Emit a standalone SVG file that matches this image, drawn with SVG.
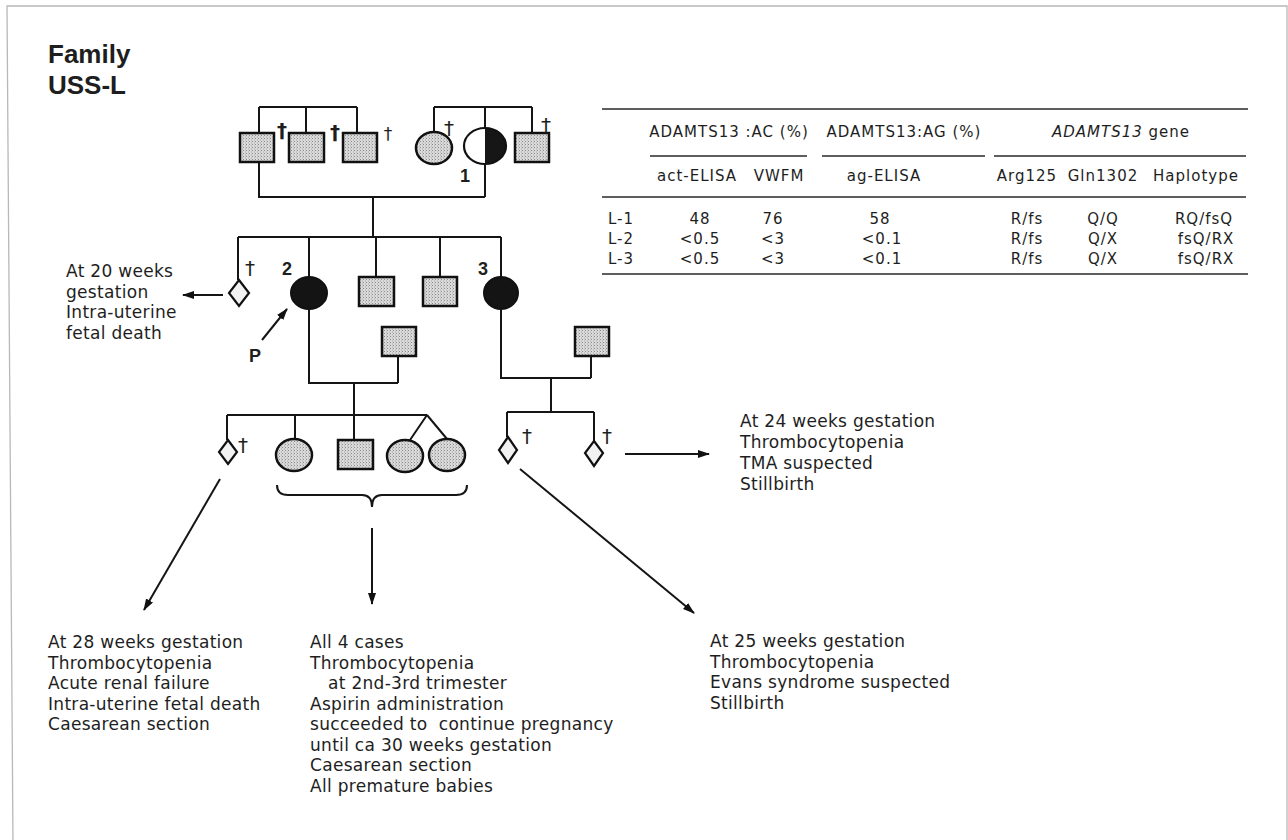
<svg xmlns="http://www.w3.org/2000/svg" width="1288" height="840" viewBox="0 0 1288 840">
<style>
.t{font-family:"DejaVu Sans",sans-serif;font-size:17px;fill:#1e1e1e;letter-spacing:0.3px}
.tb{font-family:"DejaVu Sans",sans-serif;font-size:15px;fill:#1e1e1e;letter-spacing:1px}
.ti{font-family:"Liberation Sans",sans-serif;font-size:26px;font-weight:bold;fill:#1e1e1e}
.lb{font-family:"Liberation Sans",sans-serif;font-size:18px;font-weight:bold;fill:#1e1e1e}
.dg{font-family:"DejaVu Sans",sans-serif;font-size:20px;fill:#1e1e1e;text-anchor:middle}
.ln{fill:none;stroke:#151515;stroke-width:2}
.tl{fill:none;stroke:#2a2a2a;stroke-width:1.6}
.sq{fill:url(#stip);stroke:#111;stroke-width:2.5}
.fc{fill:#141414;stroke:#111;stroke-width:2}
.dm{fill:#f2f2f2;stroke:#111;stroke-width:2.2}
.m{text-anchor:middle}
</style>
<defs>
<pattern id="stip" width="3" height="3" patternUnits="userSpaceOnUse">
<rect width="3" height="3" fill="#dadada"/>
<rect width="1" height="1" fill="#8c8c8c"/>
<rect x="2" y="1.5" width="1" height="1" fill="#a8a8a8"/>
</pattern>
<marker id="ah" viewBox="0 0 12 10" refX="11" refY="5" markerWidth="12" markerHeight="10" markerUnits="userSpaceOnUse" orient="auto">
<path d="M0,1 L12,5 L0,9 Z" fill="#111"/>
</marker>
</defs>
<rect width="1288" height="840" fill="#fff"/>
<path d="M13,845 L7,6 L1287,6 L1287,845" fill="none" stroke="#b8b8b8" stroke-width="1.3"/>

<g id="title">
<text class="ti" x="48" y="63">Family</text>
<text class="ti" x="48" y="94">USS-L</text>
</g>

<g id="connectors">
<path class="ln" d="M259,107 H357 M259,107 V133 M306,107 V133 M357,107 V133"/>
<path class="ln" d="M434,107 H532 M434,107 V132 M485,107 V128 M532,107 V133"/>
<path class="ln" d="M259,162 V197 H485 M485,164 V197 M373,197 V237"/>
<path class="ln" d="M238,237 H501 M238,237 V280 M309,237 V277 M376,237 V277 M440,237 V277 M501,237 V277"/>
<path class="ln" d="M309,309 V383 H398 M398,356 V383 M354,383 V415"/>
<path class="ln" d="M501,309 V378 H591 M591,356 V378 M551,378 V412"/>
<path class="ln" d="M227,415 H427 M227,415 V440 M295,415 V439 M354,415 V440 M427,415 L410,440 M427,415 L447,439"/>
<path class="ln" d="M507,412 H594 M507,412 V437 M594,412 V441"/>
<path class="ln" d="M223,295 H183" marker-end="url(#ah)"/>
<path class="ln" d="M262,340 L287,309" marker-end="url(#ah)"/>
<path class="ln" d="M220,479 L144,610" marker-end="url(#ah)"/>
<path class="ln" d="M372,528 V604" marker-end="url(#ah)"/>
<path class="ln" d="M520,469 L694,613" marker-end="url(#ah)"/>
<path class="ln" d="M625,454 H709" marker-end="url(#ah)"/>
<path class="ln" d="M277,485 Q277,495 288,495 L362,495 Q372,495 372,507 Q372,495 382,495 L456,495 Q467,495 467,485"/>
</g>

<g id="gen1-m1"><rect class="sq" x="240" y="133" width="34" height="29"/><text class="dg" x="282" y="137" style="font-weight:bold">†</text></g>
<g id="gen1-m2"><rect class="sq" x="289" y="133" width="35" height="29"/><text class="dg" x="335" y="139" style="font-weight:bold">†</text></g>
<g id="gen1-m3"><rect class="sq" x="343" y="133" width="34" height="29"/><text class="dg" x="388" y="140" style="font-size:17px">†</text></g>
<g id="gen1-f1"><ellipse class="sq" cx="434" cy="148" rx="18" ry="16"/><text class="dg" x="449" y="135">†</text></g>
<g id="gen1-L1">
<path d="M485,128 A21,18 0 0 0 485,164 Z" fill="#fff"/>
<path d="M485,128 A21,18 0 0 1 485,164 Z" fill="#161616"/>
<ellipse cx="485" cy="146" rx="21" ry="18" fill="none" stroke="#111" stroke-width="2.2"/>
<text class="lb m" x="465" y="182">1</text>
</g>
<g id="gen1-m4"><rect class="sq" x="515" y="133" width="34" height="29"/><text class="dg" x="546" y="132">†</text></g>

<g id="gen2-fetus"><path class="dm" d="M239,280 L249,293 L239,306 L229,293 Z"/><text class="dg" x="250" y="275">†</text></g>
<g id="gen2-L2"><ellipse class="fc" cx="309" cy="293" rx="18" ry="16"/><text class="lb m" x="287" y="275">2</text><text class="lb m" x="255" y="362">P</text></g>
<g id="gen2-m1"><rect class="sq" x="359" y="277" width="35" height="29"/></g>
<g id="gen2-m2"><rect class="sq" x="423" y="277" width="34" height="29"/></g>
<g id="gen2-L3"><ellipse class="fc" cx="501" cy="293" rx="17" ry="16"/><text class="lb m" x="483" y="275">3</text></g>
<g id="gen2-sp2"><rect class="sq" x="382" y="327" width="34" height="29"/></g>
<g id="gen2-sp3"><rect class="sq" x="575" y="327" width="34" height="29"/></g>

<g id="gen3-d1"><path class="dm" d="M228,440 L237,452 L228,464 L219,452 Z"/><text class="dg" x="243" y="452">†</text></g>
<g id="gen3-f1"><ellipse class="sq" cx="294" cy="455" rx="18" ry="16"/></g>
<g id="gen3-m1"><rect class="sq" x="338" y="440" width="35" height="29"/></g>
<g id="gen3-tw1"><ellipse class="sq" cx="405" cy="456" rx="18" ry="16"/></g>
<g id="gen3-tw2"><ellipse class="sq" cx="447" cy="455" rx="18" ry="16"/></g>
<g id="gen3-d2"><path class="dm" d="M508,437 L517,450 L508,463 L499,450 Z"/><text class="dg" x="527" y="443">†</text></g>
<g id="gen3-d3"><path class="dm" d="M594,441 L603,453 L594,466 L585,453 Z"/><text class="dg" x="607" y="443">†</text></g>

<g id="note-fetus">
<text class="t" x="66" y="277">At 20 weeks</text>
<text class="t" x="66" y="297.5">gestation</text>
<text class="t" x="66" y="318">Intra-uterine</text>
<text class="t" x="66" y="338.5">fetal death</text>
</g>
<g id="note-24">
<text class="t" x="740" y="427">At 24 weeks gestation</text>
<text class="t" x="740" y="448">Thrombocytopenia</text>
<text class="t" x="740" y="469">TMA suspected</text>
<text class="t" x="740" y="490">Stillbirth</text>
</g>
<g id="note-28">
<text class="t" x="48" y="648">At 28 weeks gestation</text>
<text class="t" x="48" y="668.5">Thrombocytopenia</text>
<text class="t" x="48" y="689">Acute renal failure</text>
<text class="t" x="48" y="709.5">Intra-uterine fetal death</text>
<text class="t" x="48" y="730">Caesarean section</text>
</g>
<g id="note-all4">
<text class="t" x="310" y="648">All 4 cases</text>
<text class="t" x="310" y="668.5">Thrombocytopenia</text>
<text class="t" x="328" y="689">at 2nd-3rd trimester</text>
<text class="t" x="310" y="709.5">Aspirin administration</text>
<text class="t" x="310" y="730" xml:space="preserve">succeeded to  continue pregnancy</text>
<text class="t" x="310" y="750.5">until ca 30 weeks gestation</text>
<text class="t" x="310" y="771">Caesarean section</text>
<text class="t" x="310" y="791.5">All premature babies</text>
</g>
<g id="note-25">
<text class="t" x="710" y="647">At 25 weeks gestation</text>
<text class="t" x="710" y="667.5">Thrombocytopenia</text>
<text class="t" x="710" y="688">Evans syndrome suspected</text>
<text class="t" x="710" y="708.5">Stillbirth</text>
</g>

<g id="table">
<path class="tl" d="M602,109 H1248 M650,156 H807 M822,156 H985 M994,156 H1246 M602,197 H1246 M602,274 H1248"/>
<text class="tb m" x="729" y="137" xml:space="preserve">ADAMTS13 :AC (%)</text>
<text class="tb m" x="904" y="137">ADAMTS13:AG (%)</text>
<text class="tb m" x="1121" y="137"><tspan font-style="italic">ADAMTS13</tspan> gene</text>
<text class="tb m" x="697" y="181">act-ELISA</text>
<text class="tb m" x="779" y="181">VWFM</text>
<text class="tb m" x="884" y="181">ag-ELISA</text>
<text class="tb m" x="1027" y="181">Arg125</text>
<text class="tb m" x="1103" y="181">Gln1302</text>
<text class="tb m" x="1196" y="181">Haplotype</text>
<text class="tb" x="608" y="224">L-1</text>
<text class="tb" x="608" y="244">L-2</text>
<text class="tb" x="608" y="264">L-3</text>
<text class="tb m" x="700" y="224">48</text>
<text class="tb m" x="700" y="244">&lt;0.5</text>
<text class="tb m" x="700" y="264">&lt;0.5</text>
<text class="tb m" x="773" y="224">76</text>
<text class="tb m" x="773" y="244">&lt;3</text>
<text class="tb m" x="773" y="264">&lt;3</text>
<text class="tb m" x="880" y="224">58</text>
<text class="tb m" x="882" y="244">&lt;0.1</text>
<text class="tb m" x="882" y="264">&lt;0.1</text>
<text class="tb m" x="1027" y="224">R/fs</text>
<text class="tb m" x="1027" y="244">R/fs</text>
<text class="tb m" x="1027" y="264">R/fs</text>
<text class="tb m" x="1103" y="224">Q/Q</text>
<text class="tb m" x="1103" y="244">Q/X</text>
<text class="tb m" x="1103" y="264">Q/X</text>
<text class="tb m" x="1204" y="224">RQ/fsQ</text>
<text class="tb m" x="1206" y="244">fsQ/RX</text>
<text class="tb m" x="1206" y="264">fsQ/RX</text>
</g>
</svg>
